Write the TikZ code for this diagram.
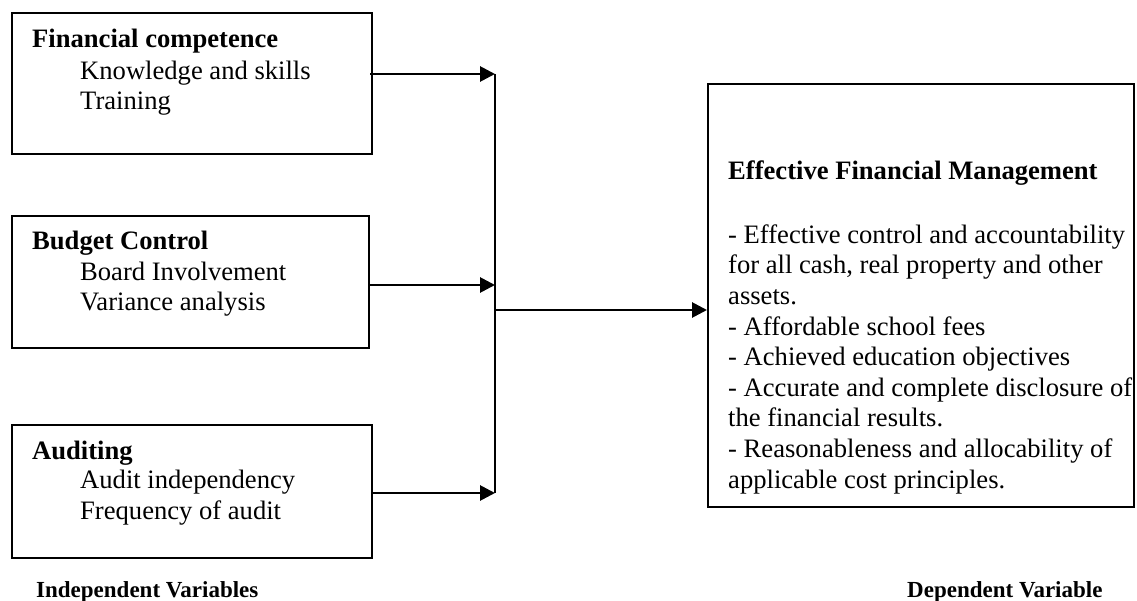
\documentclass[tikz,border=0pt]{standalone}
\usepackage{fontspec}
\setmainfont{Liberation Serif}
\usetikzlibrary{arrows.meta,positioning,calc}
\tikzset{x=1pt, y=-1pt, % pixel grid of the original, y running down
        varbox/.style={ % frame round each variable
            draw, line width=2pt, rectangle,
            anchor=north west, inner sep=0pt},
        boxtext/.style={ % plain lines inside a frame, placed by last baseline
            anchor=base west, inner sep=0pt, align=left,
            font=\fontsize{26.6}{30.6}\selectfont},
        headtext/.style={ % bold heading inside a frame
            boxtext, font=\fontsize{26.6}{30.6}\selectfont\bfseries},
        captext/.style={ % labels under the frames
            anchor=base west, inner sep=0pt,
            font=\fontsize{23}{27}\selectfont\bfseries},
        link/.style={ % the connectors
            draw, line width=2.8pt,
            -{Triangle[length=15pt,width=15pt]}}
        }
\begin{document}
\begin{tikzpicture}
    \useasboundingbox (0,0) rectangle (1137,601);

    % independent variables
    \node[varbox, minimum width=360pt, minimum height=141pt] (fin) at (11,12) {};
    \node[varbox, minimum width=357pt, minimum height=132pt] (bud) at (11,215) {};
    \node[varbox, minimum width=360pt, minimum height=133pt] (aud) at (11,424) {};

    \node[headtext] (finhead) at (32,48) {Financial competence};
    \node[boxtext] (finlist) at (80,110) {Knowledge and skills\\Training};
    \node[headtext] (budhead) at (32,250) {Budget Control};
    \node[boxtext] (budlist) at (80,311) {Board Involvement\\Variance analysis};
    \node[headtext] (audhead) at (32,459) {Auditing};
    \node[boxtext] (audlist) at (80,519) {Audit independency\\Frequency of audit};

    % dependent variable
    \node[varbox, minimum width=426pt, minimum height=423pt] (eff) at (707,83) {};
    \node[headtext] (effhead) at (728,180) {Effective Financial Management};
    \node[boxtext] (efflist) at (728,488) {- Effective control and accountability\\
        for all cash, real property and other\\
        assets.\\
        - Affordable school fees\\
        - Achieved education objectives\\
        - Accurate and complete disclosure of\\
        the financial results.\\
        - Reasonableness and allocability of\\
        applicable cost principles.};

    \node[captext] (indep) at (36,597) {Independent Variables};
    \node[captext] (dep) at (907,597) {Dependent Variable};

    % connectors
    \coordinate (jtop) at (495,74);
    \coordinate (jmid) at (495,285);
    \coordinate (jbot) at (495,493);
    \coordinate (jout) at (495,310);

    \draw[line width=2.8pt] (jtop) -- (jbot);
    \draw[link] ([xshift=-3pt]fin.east |- jtop) -- (jtop);
    \draw[link] ([xshift=-1pt]bud.east |- jmid) -- (jmid);
    \draw[link] ([xshift=-1pt]aud.east |- jbot) -- (jbot);
    \draw[link] (jout) -- (eff.west |- jout);
\end{tikzpicture}
\end{document}
